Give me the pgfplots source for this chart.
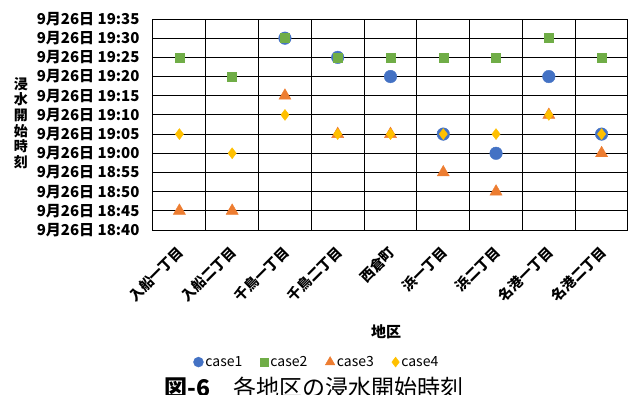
\documentclass[border=0pt]{standalone}
\usepackage{fontspec}
\setmainfont{Noto Sans CJK JP}
\usepackage{pgfplots}
\pgfplotsset{compat=1.18}
\definecolor{caseA}{HTML}{4472C4}
\definecolor{caseB}{HTML}{70AD47}
\definecolor{caseC}{HTML}{ED7D31}
\definecolor{caseD}{HTML}{FFC000}

% minutes after 18:40 on 9/26, by district index
\pgfplotstableread{
x y
2 50
3 45
4 40
5 25
6 20
7 40
8 25
}\caseone
\pgfplotstableread{
x y
0 45
1 40
2 50
3 45
4 45
5 45
6 45
7 50
8 45
}\casetwo
\pgfplotstableread{
x y
0 5
1 5
2 35
3 25
4 25
5 15
6 10
7 30
8 20
}\casethree
\pgfplotstableread{
x y
0 25
1 20
2 30
3 25
4 25
5 25
6 25
7 30
8 25
}\casefour

\begin{document}
\begin{tikzpicture}
\path[use as bounding box] (-153pt,-164pt) rectangle (479pt,230pt);
\begin{axis}[
  at={(0,0)}, anchor=south west,
  width=475pt, height=211pt, scale only axis,
  xmin=-0.5, xmax=8.5, ymin=0, ymax=55,
  xtick={0,...,8},
  xticklabels={入船一丁目,入船二丁目,千鳥一丁目,千鳥二丁目,西倉町,浜一丁目,浜二丁目,名港一丁目,名港二丁目},
  minor xtick={-0.5,0.5,...,8.5},
  ytick={0,5,...,55},
  yticklabels={9月26日 18:40,9月26日 18:45,9月26日 18:50,9月26日 18:55,9月26日 19:00,9月26日 19:05,9月26日 19:10,9月26日 19:15,9月26日 19:20,9月26日 19:25,9月26日 19:30,9月26日 19:35},
  xminorgrids, ymajorgrids,
  minor grid style={black, line width=1pt},
  major grid style={black, line width=1pt},
  axis line style={black, line width=1pt},
  tick style={draw=none},
  major tick length=0pt, minor tick length=0pt,
  yticklabel style={font=\bfseries\fontsize{15}{16}\selectfont, xshift=-10pt},
  xticklabel style={font=\bfseries\fontsize{14}{15}\selectfont, yshift=-17pt, xshift=4pt, rotate=45, anchor=east},
  clip=false,
  legend columns=4,
  legend style={at={(0.345,-0.626)}, anchor=center, draw=none, fill=none,
    font=\fontsize{14}{16}\selectfont,
    /tikz/every odd column/.append style={column sep=0pt},
    /tikz/every even column/.append style={column sep=16pt}},
  legend cell align=left,
]
\addplot[only marks, mark=*, mark size=6.3pt, mark options={fill=caseA, draw=caseA},
  legend image post style={mark size=5pt}] table {\caseone};
\addlegendentry{case1}
\addplot[only marks, mark=square*, mark size=4.5pt, mark options={fill=caseB, draw=caseB},
  legend image post style={mark size=4pt}] table {\casetwo};
\addlegendentry{case2}
\addplot[only marks, mark=triangle*, mark size=7pt, mark options={fill=caseC, draw=caseC},
  legend image post style={mark size=5.5pt}] table {\casethree};
\addlegendentry{case3}
\addplot[only marks, mark=diamond*, mark size=5.5pt, mark options={fill=caseD, draw=caseD},
  legend image post style={mark size=5pt}] table {\casefour};
\addlegendentry{case4}
\end{axis}
\node[align=center, font=\bfseries\fontsize{14}{15.6}\selectfont] at (-132pt,107pt) {浸\\水\\開\\始\\時\\刻};
\node[font=\bfseries\fontsize{15}{17}\selectfont] at (233pt,-102pt) {地区};
\node[font=\fontsize{23}{26}\selectfont] at (161pt,-158pt) {{\bfseries 図-6}　各地区の浸水開始時刻};
\end{tikzpicture}
\end{document}
